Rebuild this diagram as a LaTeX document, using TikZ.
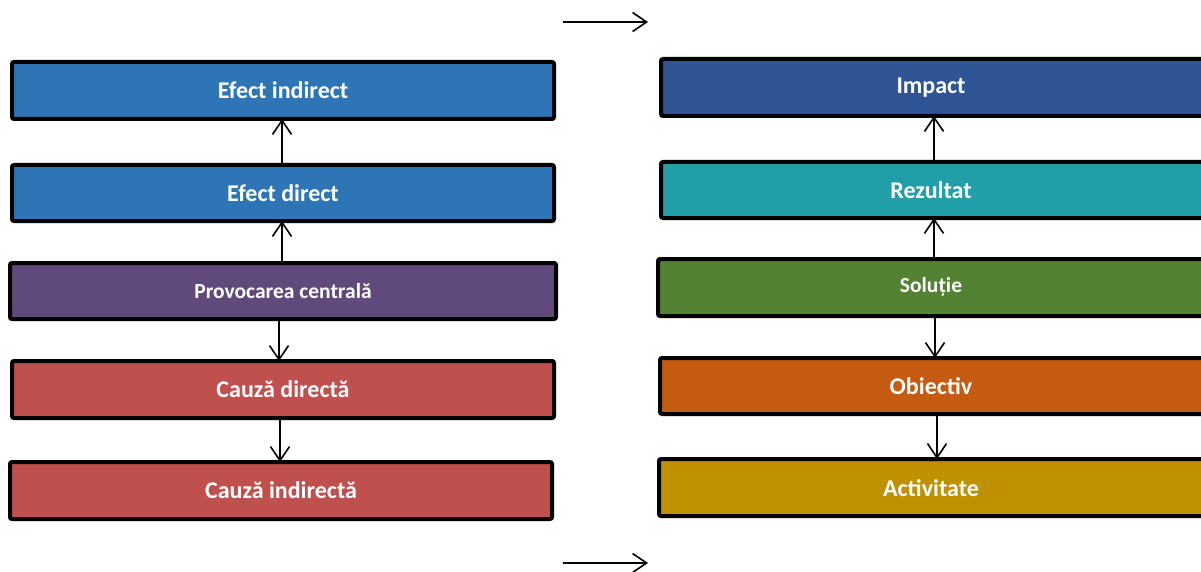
\documentclass[tikz,border=0pt]{standalone}
\usepackage{fontspec}
\setmainfont{Carlito}
\usetikzlibrary{arrows.meta}
\definecolor{efblue}{HTML}{2E75B6}
\definecolor{provpurple}{HTML}{604A7B}
\definecolor{causered}{HTML}{C0504D}
\definecolor{impblue}{HTML}{2F5597}
\definecolor{resteal}{HTML}{209FA9}
\definecolor{solgreen}{HTML}{548235}
\definecolor{objorange}{HTML}{C55A11}
\definecolor{actgold}{HTML}{BF9000}
\tikzset{
  box/.style={draw=black, line width=4pt, rounded corners=2pt},
  lbl/.style={font=\bfseries\fontsize{24}{28}\selectfont, text=white, inner sep=0pt},
  lblsmall/.style={font=\bfseries\fontsize{21.5}{25}\selectfont, text=white, inner sep=0pt},
  link/.style={line width=1.6pt, -{Straight Barb[length=14pt,width=19pt,line width=1.6pt]}},
}
\begin{document}
\begin{tikzpicture}[x=1pt,y=-1pt]
\clip (0,0) rectangle (1201,572);
\fill[white] (0,0) rectangle (1201,572);

% problem tree
\path[box, fill=efblue] (12,62) rectangle (554,119);
\node[lbl] (ei) at (283,90.5) {Efect indirect};
\path[box, fill=efblue] (12,165) rectangle (554,221);
\node[lbl] (ed) at (283,193) {Efect direct};
\path[box, fill=provpurple] (10,263) rectangle (556,319);
\node[lblsmall] (pc) at (283,291) {Provocarea centrală};
\path[box, fill=causered] (12,361) rectangle (554,418);
\node[lbl] (cd) at (283,389.5) {Cauză directă};
\path[box, fill=causered] (10,462) rectangle (552,519);
\node[lbl] (ci) at (281,490.5) {Cauză indirectă};

\coordinate (ei-s) at (282,119);
\coordinate (ed-n) at (282,165);
\coordinate (ed-s) at (282,221);
\coordinate (pc-n) at (282,263);
\coordinate (pc-s) at (279,319);
\coordinate (cd-n) at (279,361);
\coordinate (cd-s) at (280,418);
\coordinate (ci-n) at (280,462);

% objective tree
\path[box, fill=impblue] (661,59) rectangle (1206,116);
\node[lbl] (im) at (931,87.5) {Impact};
\path[box, fill=resteal] (661,162) rectangle (1206,218);
\node[lbl] (re) at (931,190) {Rezultat};
\path[box, fill=solgreen] (658,259) rectangle (1206,316);
\node[lblsmall] (so) at (931,287) {Soluție};
\path[box, fill=objorange] (660,358) rectangle (1206,414);
\node[lbl] (ob) at (931,386) {Obiectiv};
\path[box, fill=actgold] (659,459) rectangle (1206,516);
\node[lbl] (ac) at (931,488) {Activitate};

\coordinate (im-s) at (934,116);
\coordinate (re-n) at (934,162);
\coordinate (re-s) at (934,218);
\coordinate (so-n) at (934,259);
\coordinate (so-s) at (935,316);
\coordinate (ob-n) at (935,358);
\coordinate (ob-s) at (937,414);
\coordinate (ac-n) at (937,459);

% connectors
\draw[link] (ed-n) -- (ei-s);
\draw[link] (pc-n) -- (ed-s);
\draw[link] (pc-s) -- (cd-n);
\draw[link] (cd-s) -- (ci-n);
\draw[link] (re-n) -- (im-s);
\draw[link] (so-n) -- (re-s);
\draw[link] (so-s) -- (ob-n);
\draw[link] (ob-s) -- (ac-n);

% transition arrows between the two trees
\coordinate (ta) at (563,22);
\coordinate (tb) at (648,22);
\coordinate (ba) at (563,563);
\coordinate (bb) at (648,563);
\draw[link] (ta) -- (tb);
\draw[link] (ba) -- (bb);
\end{tikzpicture}
\end{document}
